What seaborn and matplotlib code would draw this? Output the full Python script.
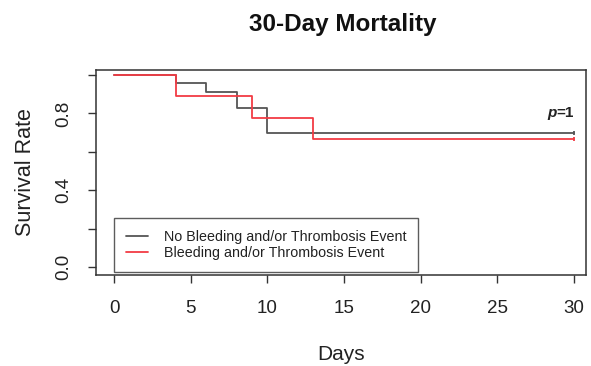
import pandas as pd
import matplotlib
matplotlib.use("Agg")
import matplotlib.pyplot as plt
import seaborn as sns

# Kaplan-Meier step values
groups = ["No Bleeding and/or Thrombosis Event", "Bleeding and/or Thrombosis Event"]
no_event_days = [0, 4, 6, 8, 10, 30]
no_event_surv = [1.0, 0.957, 0.913, 0.826, 0.696, 0.696]
event_days = [0, 4, 9, 13, 30]
event_surv = [1.0, 0.889, 0.778, 0.667, 0.667]
x_ticks = [0, 5, 10, 15, 20, 25, 30]
y_ticks = [0.0, 0.2, 0.4, 0.6, 0.8, 1.0]
y_tick_labels = ["0.0", "", "0.4", "", "0.8", ""]
p_text = "=1"

df = pd.concat([
    pd.DataFrame({"Days": no_event_days, "Survival": no_event_surv, "Group": groups[0]}),
    pd.DataFrame({"Days": event_days, "Survival": event_surv, "Group": groups[1]}),
], ignore_index=True)

sns.set_style("ticks")
plt.rcParams["font.family"] = ["Liberation Sans", "DejaVu Sans"]
ink = "#333333"
palette = {groups[0]: "#555555", groups[1]: "#f23c44"}

fig = plt.figure(figsize=(5.91, 3.66), dpi=100)
ax = fig.add_axes([0.1624, 0.2486, 0.8291, 0.5601])

sns.lineplot(data=df, x="Days", y="Survival", hue="Group", palette=palette,
             drawstyle="steps-post", linewidth=1.3, ax=ax, legend=False,
             estimator=None, sort=False)

# censoring marks at end of follow-up
last = df.groupby("Group").tail(1)
for _, row in last.iterrows():
    ax.plot(row["Days"], row["Survival"], marker="|", markersize=3.5,
            color=palette[row["Group"]], mew=1.3)

ax.set_xlim(-1.2, 30.8)
ax.set_ylim(-0.04, 1.026)
ax.set_xticks(x_ticks)
ax.set_yticks(y_ticks)
ax.set_yticklabels(y_tick_labels, rotation=90, va="center")
ax.tick_params(axis="both", colors=ink, labelcolor="#222222", labelsize=13.5,
               length=6, width=1, direction="out")
ax.tick_params(axis="x", pad=12)
ax.tick_params(axis="y", pad=11)
for s in ax.spines.values():
    s.set_color(ink)
    s.set_linewidth(1.1)

ax.set_xlabel("Days", fontsize=15, color="#222222", labelpad=20)
ax.set_ylabel("Survival Rate", fontsize=15.5, color="#222222", labelpad=14)
fig.suptitle("30-Day Mortality", x=0.58, y=0.965, fontsize=17.5,
             fontweight="bold", color="#111111")

ax.text(30, 0.80, p_text, fontsize=11, fontweight="bold", ha="right",
        va="center", color="#222222")
ax.annotate("p", xy=(30, 0.80), xytext=(-12, 0), textcoords="offset points",
            fontsize=11, fontweight="bold", style="italic", ha="right",
            va="center", color="#222222")

handles = [plt.Line2D([], [], color=palette[g], linewidth=1.3) for g in groups]
leg = ax.legend(handles, groups, loc="lower left", bbox_to_anchor=(0.037, 0.015),
                borderaxespad=0, fontsize=10.3, frameon=True, fancybox=False,
                handlelength=1.6, borderpad=0.8, labelspacing=0.2,
                handletextpad=1.1)
leg.get_frame().set_edgecolor(ink)
leg.get_frame().set_linewidth(1.0)
for t in leg.get_texts():
    t.set_color("#222222")

fig.savefig("out.png", dpi=100)
